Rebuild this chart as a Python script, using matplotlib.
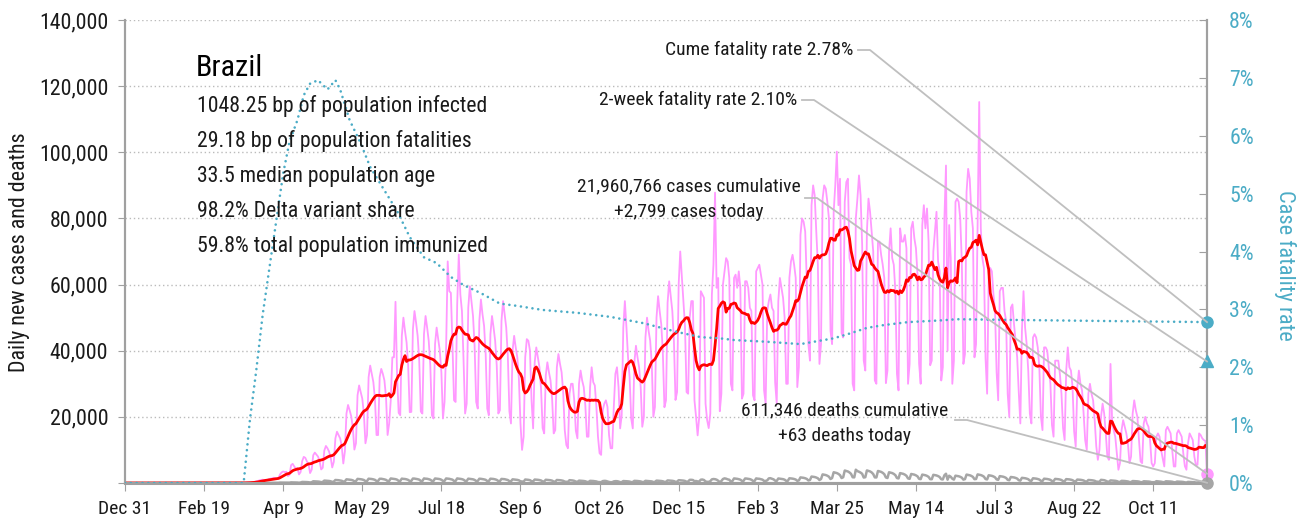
import numpy as np
import pandas as pd
import matplotlib
matplotlib.use("Agg")
import matplotlib.pyplot as plt
import matplotlib.dates as mdates
from matplotlib.lines import Line2D
from matplotlib.ticker import FuncFormatter, MultipleLocator

plt.rcParams['font.family'] = ['Roboto Condensed', 'Liberation Sans Narrow', 'Liberation Sans', 'DejaVu Sans']

# daily new cases in thousands, one row per week (Mon..Sun), from 2020-03-02
cases_k = [
    [0, 0, 0, 0.01, 0.01, 0.01, 0.01],
    [0.0, 0.01, 0.02, 0.02, 0.02, 0.04, 0.04],
    [0.06, 0.09, 0.14, 0.2, 0.25, 0.3, 0.35],
    [0.5, 0.6, 0.8, 0.9, 1.0, 0.9, 0.9],
    [0.9, 1.2, 1.3, 1.4, 1.6, 1.5, 1.2],
    [1.5, 2.6, 3.2, 3.5, 3.3, 3.4, 2.1],
    [2.5, 5.4, 5.8, 5.0, 4.3, 4.5, 2.6],
    [3.3, 6.6, 7.9, 7.6, 6.5, 5.8, 3.0],
    [4.0, 8.4, 9.2, 8.6, 8.0, 6.7, 4.1],
    [4.6, 9.8, 11.2, 10.5, 9.5, 7.8, 4.7],
    [6.4, 13.5, 15.5, 14.5, 13.5, 11.2, 5.9],
    [9.5, 21.0, 23.6, 22.0, 20.2, 16.8, 10.1],
    [12.0, 26.5, 29.5, 27.5, 25.5, 21.0, 12.0],
    [14.5, 32.0, 35.5, 33.0, 30.5, 25.5, 14.5],
    [14.5, 32.0, 34.5, 33.0, 31.0, 26.0, 14.5],
    [18.0, 25.0, 38.0, 38.0, 54.8, 32.5, 21.2],
    [20.5, 44.5, 50.0, 46.0, 42.5, 35.5, 21.4],
    [21.5, 46.5, 52.0, 48.5, 44.5, 37.0, 21.6],
    [21.0, 45.0, 50.5, 47.0, 43.0, 35.5, 20.5],
    [19.5, 42.0, 47.0, 43.5, 40.0, 33.5, 19.5],
    [24.5, 41.0, 67.0, 58.0, 57.5, 42.0, 25.0],
    [24.5, 54.0, 69.1, 57.0, 52.0, 37.4, 21.0],
    [24.0, 53.0, 59.5, 55.0, 50.5, 41.5, 24.5],
    [22.5, 49.0, 55.5, 51.0, 47.5, 39.0, 22.5],
    [20.5, 45.0, 50.5, 47.0, 43.0, 35.5, 21.0],
    [22.0, 49.0, 55.0, 51.0, 47.0, 38.5, 21.7],
    [18.0, 40.0, 44.5, 41.0, 38.0, 31.5, 18.0],
    [10.0, 14.0, 38.0, 43.5, 43.0, 40.0, 25.0],
    [16.5, 36.5, 41.0, 38.0, 35.0, 28.5, 16.6],
    [15.0, 32.5, 36.5, 33.5, 31.0, 25.5, 15.0],
    [16.0, 35.0, 39.0, 36.0, 33.5, 27.5, 16.0],
    [11.5, 10.5, 27.0, 30.0, 30.0, 25.0, 15.8],
    [13.5, 30.0, 34.0, 31.0, 29.0, 23.5, 14.0],
    [14.0, 29.0, 35.0, 30.5, 29.5, 23.0, 14.0],
    [9.0, 8.5, 22.0, 24.0, 25.0, 23.0, 14.5],
    [10.5, 10.5, 23.0, 33.0, 35.0, 29.0, 16.5],
    [20.5, 47.0, 55.0, 47.0, 38.0, 32.0, 19.5],
    [16.5, 36.5, 41.5, 38.0, 35.0, 29.0, 17.0],
    [20.0, 44.0, 50.0, 46.0, 43.0, 36.0, 20.0],
    [23.0, 50.0, 56.5, 52.0, 48.0, 39.5, 22.9],
    [25.0, 54.5, 61.0, 56.5, 52.0, 43.0, 25.1],
    [27.5, 60.0, 70.0, 62.5, 55.0, 47.5, 27.5],
    [27.0, 50.0, 55.0, 55.0, 25.0, 20.0, 14.4],
    [20.0, 58.0, 57.0, 56.0, 24.0, 19.0, 16.6],
    [21.0, 57.0, 66.0, 87.8, 59.0, 62.0, 21.7],
    [27.0, 60.0, 64.0, 68.0, 67.0, 62.0, 30.0],
    [28.0, 62.0, 63.0, 59.0, 64.0, 59.0, 25.5],
    [27.0, 61.0, 61.0, 59.0, 53.0, 52.0, 26.5],
    [25.0, 64.0, 65.0, 66.0, 63.0, 60.0, 28.0],
    [24.0, 52.0, 55.0, 57.0, 53.0, 52.0, 30.4],
    [24.0, 55.0, 62.0, 59.0, 56.0, 50.0, 30.0],
    [30.0, 62.0, 67.0, 69.0, 66.0, 62.0, 29.0],
    [35.0, 75.0, 80.0, 79.0, 76.0, 61.0, 42.0],
    [37.0, 84.0, 90.0, 87.0, 76.0, 66.0, 36.0],
    [42.0, 86.0, 90.0, 89.0, 85.0, 80.0, 46.0],
    [42.0, 82.0, 90.0, 100.2, 84.0, 92.0, 45.3],
    [44.0, 85.0, 91.0, 92.0, 68.0, 66.0, 30.0],
    [28.0, 80.0, 86.0, 93.0, 87.0, 72.0, 37.0],
    [34.0, 76.0, 86.0, 82.0, 76.0, 70.0, 31.0],
    [30.0, 73.0, 73.0, 69.0, 66.0, 62.0, 30.2],
    [34.0, 70.0, 77.0, 68.0, 66.0, 58.0, 33.0],
    [28.0, 77.0, 73.0, 73.0, 75.0, 71.0, 30.0],
    [36.0, 77.0, 79.0, 74.0, 71.0, 63.0, 36.1],
    [30.0, 78.0, 84.0, 77.0, 83.0, 73.0, 35.6],
    [37.0, 70.0, 76.0, 82.0, 67.0, 64.0, 31.0],
    [35.0, 80.0, 96.0, 40.0, 78.0, 68.0, 30.0],
    [37.0, 85.0, 86.0, 85.0, 80.0, 67.0, 36.0],
    [39.0, 88.0, 95.0, 92.0, 82.0, 77.0, 38.0],
    [42.0, 78.0, 115.2, 77.0, 68.0, 65.0, 37.8],
    [27.0, 62.0, 65.0, 64.0, 57.0, 52.0, 33.5],
    [25.0, 58.0, 59.0, 59.0, 52.0, 49.0, 27.0],
    [20.0, 53.0, 54.0, 48.0, 43.0, 38.0, 27.5],
    [18.0, 46.0, 58.0, 47.0, 42.0, 34.0, 21.0],
    [18.0, 44.0, 45.0, 44.0, 41.0, 35.0, 20.1],
    [16.0, 41.0, 41.0, 40.0, 35.0, 30.0, 17.5],
    [14.0, 37.0, 37.0, 37.0, 33.0, 27.0, 16.6],
    [13.0, 34.0, 41.0, 35.0, 34.0, 29.0, 15.6],
    [11.0, 29.0, 34.0, 30.0, 28.0, 21.0, 12.9],
    [10.0, 27.0, 30.0, 27.0, 25.0, 19.0, 11.1],
    [7.0, 10.0, 20.0, 24.0, 21.0, 15.0, 8.0],
    [7.0, 36.0, 19.0, 16.0, 14.0, 9.0, 4.0],
    [6.0, 16.0, 19.0, 17.0, 15.0, 12.0, 6.0],
    [8.0, 21.0, 25.0, 22.0, 20.0, 13.0, 6.5],
    [6.0, 18.0, 20.0, 18.0, 17.0, 13.0, 6.0],
    [5.0, 6.0, 14.0, 15.0, 14.0, 10.0, 7.4],
    [5.0, 16.0, 17.0, 16.0, 15.0, 10.0, 5.0],
    [5.0, 15.0, 16.0, 15.0, 14.0, 9.0, 5.1],
    [4.0, 12.0, 15.0, 14.0, 13.0, 8.0, 5.4],
    [5.5, 15.0, 14.5, 13.5, 13.0, 12.7, 2.799],
]

# daily new deaths in hundreds, same weeks
deaths_h = [
    [0, 0, 0, 0, 0, 0, 0],
    [0, 0, 0, 0, 0, 0, 0],
    [0.0, 0.01, 0.03, 0.03, 0.06, 0.07, 0.07],
    [0.1, 0.13, 0.14, 0.18, 0.2, 0.2, 0.19],
    [0.3, 0.45, 0.55, 0.6, 0.6, 0.55, 0.45],
    [0.65, 1.3, 1.2, 1.15, 1.1, 0.95, 0.65],
    [1.0, 2.0, 1.9, 1.8, 1.65, 1.4, 0.75],
    [1.5, 3.2, 3.1, 3.0, 2.75, 2.4, 1.55],
    [2.4, 5.2, 5.0, 4.8, 4.4, 3.8, 2.4],
    [3.3, 7.2, 6.9, 6.6, 6.1, 5.2, 3.3],
    [4.2, 9.1, 8.8, 8.4, 7.7, 6.7, 4.2],
    [5.1, 11.1, 10.6, 10.2, 9.4, 8.1, 5.1],
    [5.7, 12.4, 11.9, 11.4, 10.5, 9.0, 5.7],
    [6.0, 13.0, 12.5, 12.0, 11.0, 9.5, 6.0],
    [6.2, 12.7, 12.8, 11.8, 10.9, 9.4, 6.1],
    [6.3, 13.7, 13.1, 12.6, 11.6, 10.0, 6.3],
    [6.1, 13.2, 12.4, 12.1, 11.0, 9.3, 5.9],
    [6.4, 13.5, 13.3, 12.5, 11.5, 10.1, 6.2],
    [6.2, 13.8, 13.0, 12.7, 11.5, 9.9, 6.4],
    [6.3, 13.6, 13.2, 12.5, 11.7, 9.8, 6.3],
    [6.4, 13.7, 13.1, 12.6, 11.4, 10.1, 6.2],
    [6.2, 13.9, 13.0, 12.5, 11.6, 9.9, 6.4],
    [6.0, 13.1, 12.4, 12.0, 11.1, 9.4, 6.0],
    [6.2, 12.9, 12.6, 11.9, 10.9, 9.6, 5.9],
    [6.0, 13.0, 12.5, 12.1, 11.0, 9.4, 6.0],
    [5.7, 12.3, 11.9, 11.5, 10.4, 9.0, 5.7],
    [5.1, 11.1, 10.6, 10.2, 9.4, 8.1, 5.1],
    [4.5, 4.0, 10.5, 10.0, 9.5, 8.5, 5.5],
    [4.8, 10.4, 10.0, 9.6, 8.8, 7.6, 4.8],
    [4.5, 9.8, 9.4, 9.0, 8.3, 7.1, 4.4],
    [4.2, 9.1, 8.8, 8.4, 7.7, 6.6, 4.2],
    [3.6, 3.5, 8.5, 8.0, 7.6, 6.5, 4.3],
    [3.3, 7.2, 6.9, 6.6, 6.0, 5.2, 3.3],
    [3.0, 6.5, 6.3, 6.0, 5.5, 4.7, 3.0],
    [2.7, 2.5, 5.7, 6.4, 6.2, 4.8, 3.2],
    [2.4, 2.6, 4.9, 5.6, 5.5, 4.5, 2.5],
    [2.7, 5.9, 5.6, 5.4, 5.0, 4.3, 2.6],
    [3.0, 6.5, 6.3, 6.0, 5.5, 4.7, 3.0],
    [3.0, 6.6, 6.2, 6.0, 5.5, 4.8, 2.9],
    [3.3, 7.2, 6.9, 6.6, 6.0, 5.2, 3.3],
    [3.6, 7.8, 7.5, 7.2, 6.6, 5.7, 3.6],
    [3.9, 8.5, 8.1, 7.8, 7.2, 6.2, 3.8],
    [4.5, 9.6, 9.6, 9.0, 5.5, 6.0, 4.8],
    [4.5, 10.0, 10.5, 9.0, 4.6, 3.5, 3.4],
    [5.5, 11.0, 12.0, 11.5, 10.0, 6.8, 2.7],
    [5.9, 12.0, 14.0, 13.0, 11.0, 9.9, 4.2],
    [6.0, 13.8, 13.2, 12.6, 11.5, 10.0, 6.4],
    [6.3, 13.6, 13.3, 12.5, 11.7, 9.8, 6.3],
    [6.1, 13.9, 13.0, 12.7, 11.5, 10.1, 6.2],
    [6.3, 8.0, 14.0, 14.5, 12.7, 11.0, 7.0],
    [6.2, 13.7, 13.1, 12.6, 11.6, 10.0, 6.3],
    [6.6, 14.3, 13.8, 13.2, 12.1, 10.4, 6.6],
    [7.8, 16.9, 16.3, 15.6, 14.3, 12.3, 7.8],
    [9.0, 19.5, 18.8, 18.0, 16.5, 14.2, 9.0],
    [12.0, 26.0, 25.0, 24.0, 22.0, 19.0, 12.0],
    [15.0, 32.5, 31.3, 30.0, 27.5, 23.7, 15.0],
    [17.4, 37.7, 36.3, 34.8, 31.9, 27.5, 17.4],
    [17.0, 40.2, 36.0, 34.0, 31.5, 27.8, 16.5],
    [17.5, 38.0, 36.5, 35.0, 32.0, 27.0, 17.0],
    [16.8, 36.4, 35.0, 33.6, 30.8, 26.6, 16.8],
    [15.0, 32.5, 31.3, 30.0, 27.5, 23.7, 15.0],
    [13.8, 29.9, 28.8, 27.6, 25.3, 21.8, 13.8],
    [12.6, 27.3, 26.3, 25.2, 23.1, 20.0, 12.5],
    [11.7, 25.4, 24.4, 23.4, 21.5, 18.5, 11.6],
    [11.4, 24.7, 23.8, 22.8, 20.9, 18.0, 11.4],
    [10.8, 23.4, 28.0, 10.0, 22.0, 18.8, 13.0],
    [10.2, 22.1, 21.3, 20.4, 18.7, 16.1, 10.2],
    [11.7, 25.4, 24.4, 23.4, 21.5, 18.5, 11.6],
    [12.0, 26.0, 25.0, 24.0, 22.0, 19.0, 12.0],
    [10.8, 23.4, 22.5, 21.6, 19.8, 17.1, 10.8],
    [9.6, 20.8, 20.0, 19.2, 17.6, 15.2, 9.6],
    [8.4, 18.2, 17.5, 16.8, 15.4, 13.3, 8.4],
    [7.2, 15.6, 15.0, 14.4, 13.2, 11.4, 7.2],
    [6.6, 14.3, 13.8, 13.2, 12.1, 10.4, 6.6],
    [6.0, 13.0, 12.5, 12.0, 11.0, 9.5, 6.0],
    [5.7, 12.4, 11.9, 11.4, 10.5, 9.0, 5.6],
    [5.4, 11.7, 11.3, 10.8, 9.9, 8.5, 5.4],
    [4.8, 10.4, 10.0, 9.6, 8.8, 7.6, 4.8],
    [4.2, 9.1, 8.8, 8.4, 7.7, 6.6, 4.2],
    [3.9, 3.5, 9.5, 9.0, 8.5, 6.7, 4.4],
    [3.6, 7.8, 7.5, 7.2, 6.6, 5.7, 3.6],
    [3.0, 6.5, 6.3, 6.0, 5.5, 4.7, 3.0],
    [2.7, 5.9, 5.6, 5.4, 5.0, 4.3, 2.6],
    [2.4, 5.2, 5.0, 4.8, 4.4, 3.8, 2.4],
    [2.3, 2.5, 5.5, 5.0, 4.6, 3.9, 2.8],
    [2.4, 5.2, 5.0, 4.8, 4.4, 3.8, 2.4],
    [2.0, 4.3, 4.1, 4.0, 3.6, 3.1, 2.0],
    [1.5, 3.3, 3.1, 3.0, 2.8, 2.4, 1.4],
    [1.5, 3.3, 3.2, 3.0, 2.8, 2.4, 0.63],
]

# cumulative case fatality rate, percent
cfr_dates = ['2019-12-31', '2020-03-15', '2020-03-19', '2020-03-23', '2020-03-27',
             '2020-04-01', '2020-04-05', '2020-04-09', '2020-04-13', '2020-04-18',
             '2020-04-22', '2020-04-26', '2020-05-01', '2020-05-07', '2020-05-12',
             '2020-05-15', '2020-05-21', '2020-05-28', '2020-06-03', '2020-06-11',
             '2020-06-20', '2020-06-28', '2020-07-07', '2020-07-15', '2020-07-24',
             '2020-08-01', '2020-08-12', '2020-08-24', '2020-09-04', '2020-09-20',
             '2020-10-12', '2020-11-02', '2020-11-23', '2020-12-14', '2020-12-29',
             '2021-01-10', '2021-01-19', '2021-02-09', '2021-03-02', '2021-03-23',
             '2021-04-03', '2021-04-13', '2021-04-24', '2021-05-09', '2021-05-30',
             '2021-06-09', '2021-07-07', '2021-09-08', '2021-11-14']
cfr_pct = [0, 0, 1.1, 1.95, 2.9,
           3.85, 4.6, 5.35, 5.9, 6.27,
           6.7, 6.9, 6.96, 6.8, 6.96,
           6.8, 6.27, 5.87, 5.46, 5.1,
           4.7, 4.25, 3.9, 3.8, 3.56,
           3.42, 3.28, 3.1, 3.06, 2.99,
           2.94, 2.87, 2.76, 2.61, 2.52,
           2.5, 2.47, 2.44, 2.4, 2.5,
           2.59, 2.68, 2.73, 2.78, 2.81,
           2.83, 2.82, 2.80, 2.78]

cume_rate = 2.78
two_week_rate = 2.10
cases_total = 21960766
deaths_total = 611346

info_lines = ["1048.25 bp of population infected",
              "29.18 bp of population fatalities",
              "33.5 median population age",
              "98.2% Delta variant share",
              "59.8% total population immunized"]

TEAL = '#4BACC6'
PINK = '#FF99FF'
RED = '#FF0000'
GREY = '#A6A6A6'
SPINE = '#A0A0A0'
INK = '#1A1A1A'

full_range = pd.date_range('2019-12-31', '2021-11-14')
week_days = pd.date_range('2020-03-02', periods=7 * len(cases_k))
cases = pd.Series(np.ravel(cases_k) * 1000, index=week_days).reindex(full_range, fill_value=0)
deaths = pd.Series(np.ravel(deaths_h) * 100, index=week_days).reindex(full_range, fill_value=0)
avg7 = cases.rolling(7, min_periods=1).mean()
cfr = pd.Series(cfr_pct, index=pd.to_datetime(cfr_dates))
last_day = full_range[-1]

W, H = 1303, 522
fig = plt.figure(figsize=(W / 100, H / 100), dpi=100)
renderer = fig.canvas.get_renderer()


def fit_size(sample, width_px, **kw):
    # font size that makes `sample` about width_px wide
    t = fig.text(0, 0, sample, fontsize=20, **kw)
    w = t.get_window_extent(renderer).width
    t.remove()
    return 20 * width_px / w


tick_fs = fit_size('140,000', 69)
xtick_fs = fit_size('Dec 31', 53)
title_fs = fit_size('Brazil', 67)
body_fs = fit_size(info_lines[0], 290)
note_fs = fit_size('Cume fatality rate 2.78%', 187)
ylab_fs = fit_size('Daily new cases and deaths', 240)
rlab_fs = fit_size('Case fatality rate', 150)

ax = fig.add_axes([125 / W, 39 / H, 1082 / W, 463 / H])
ax2 = ax.twinx()

ax.plot(cases.index, cases.values, color=PINK, lw=1.3, zorder=2)
ax.plot(deaths.index, deaths.values, color=GREY, lw=1.8, zorder=3)
ax.plot(avg7.index, avg7.values, color=RED, lw=2.0, zorder=4)
ax2.plot(cfr.index, cfr.values, color=TEAL, lw=1.9, linestyle=(0, (0.01, 2.2)),
         dash_capstyle='round', zorder=5)

ax.set_xlim(full_range[0], last_day)
ax.set_ylim(0, 140000)
ax2.set_ylim(0, 8)

ax.yaxis.set_major_locator(MultipleLocator(20000))
ax.yaxis.set_major_formatter(FuncFormatter(lambda v, p: f'{int(v):,}' if v > 0 else ''))
ax2.yaxis.set_major_locator(MultipleLocator(1))
ax2.yaxis.set_major_formatter(FuncFormatter(lambda v, p: f'{int(round(v))}%'))

xt = pd.date_range('2019-12-31', periods=14, freq='50D')
ax.set_xticks(xt)
ax.set_xticklabels([f'{d:%b} {d.day}' for d in xt])

ax.yaxis.grid(True, linestyle=(0, (1, 2)), color='#BBBBBB', lw=1)
ax.set_axisbelow(True)

for a in (ax, ax2):
    a.spines['top'].set_visible(False)
    for s in ('left', 'right', 'bottom'):
        a.spines[s].set_color(SPINE)
        a.spines[s].set_linewidth(1.5)
ax.spines['bottom'].set_linewidth(2.2)

ax.tick_params(axis='y', direction='out', length=5, color=SPINE, labelsize=tick_fs,
               labelcolor=INK, pad=7)
ax.tick_params(axis='x', direction='out', length=6, color=SPINE, labelsize=xtick_fs,
               labelcolor=INK, pad=6)
ax2.tick_params(axis='y', direction='in', length=6, color=SPINE, labelsize=tick_fs,
                labelcolor=TEAL, pad=16)


def fig_xy(x_px, y_px):
    return x_px / W, 1 - y_px / H


fig.text(*fig_xy(20, 252), 'Daily new cases and deaths', fontsize=ylab_fs, color=INK,
         rotation=90, ha='center', va='center')
fig.text(*fig_xy(1285, 265), 'Case fatality rate', fontsize=rlab_fs, color=TEAL,
         rotation=270, ha='center', va='center')

# end-of-series markers
ax.plot([last_day], [cases.iloc[-1]], 'o', color=PINK, ms=8, clip_on=False, zorder=6)
ax.plot([last_day], [deaths.iloc[-1]], 'o', color=GREY, ms=8, clip_on=False, zorder=6)
ax2.plot([last_day], [cume_rate], 'o', color=TEAL, ms=8, clip_on=False, zorder=6)
ax2.plot([last_day], [two_week_rate], '^', color=TEAL, ms=9, clip_on=False, zorder=6)

# country summary block
fig.text(*fig_xy(196, 68), 'Brazil', fontsize=title_fs, color='black', va='center', ha='left')
for i, line in enumerate(info_lines):
    fig.text(*fig_xy(197, 106 + i * 35.2), line, fontsize=body_fs, color=INK,
             va='center', ha='left')

# labels with leader lines to the end markers
fig.text(*fig_xy(853, 50), f'Cume fatality rate {cume_rate:.2f}%', fontsize=note_fs,
         color=INK, ha='right', va='center')
fig.text(*fig_xy(797, 100), f'2-week fatality rate {two_week_rate:.2f}%', fontsize=note_fs,
         color=INK, ha='right', va='center')
fig.text(*fig_xy(689, 186), f'{cases_total:,} cases cumulative', fontsize=note_fs,
         color=INK, ha='center', va='center')
fig.text(*fig_xy(689, 212), f'+{cases.iloc[-1]:,.0f} cases today', fontsize=note_fs,
         color=INK, ha='center', va='center')
fig.text(*fig_xy(845, 410), f'{deaths_total:,} deaths cumulative', fontsize=note_fs,
         color=INK, ha='center', va='center')
fig.text(*fig_xy(845, 436), f'+{deaths.iloc[-1]:,.0f} deaths today', fontsize=note_fs,
         color=INK, ha='center', va='center')


def leader(x_px, y_px, axis, value):
    xm, ym = axis.transData.transform((mdates.date2num(last_day), value))
    x0, y0 = fig_xy(x_px, y_px)
    fig.add_artist(Line2D([x0, x0 + 12 / W, xm / W], [y0, y0, ym / H],
                          transform=fig.transFigure, color='#BFBFBF', lw=1.3, zorder=1))


leader(858, 50, ax2, cume_rate)
leader(802, 100, ax2, two_week_rate)
leader(805, 198, ax, cases.iloc[-1])
leader(955, 420, ax, deaths.iloc[-1])

fig.savefig('out.png', dpi=100)
